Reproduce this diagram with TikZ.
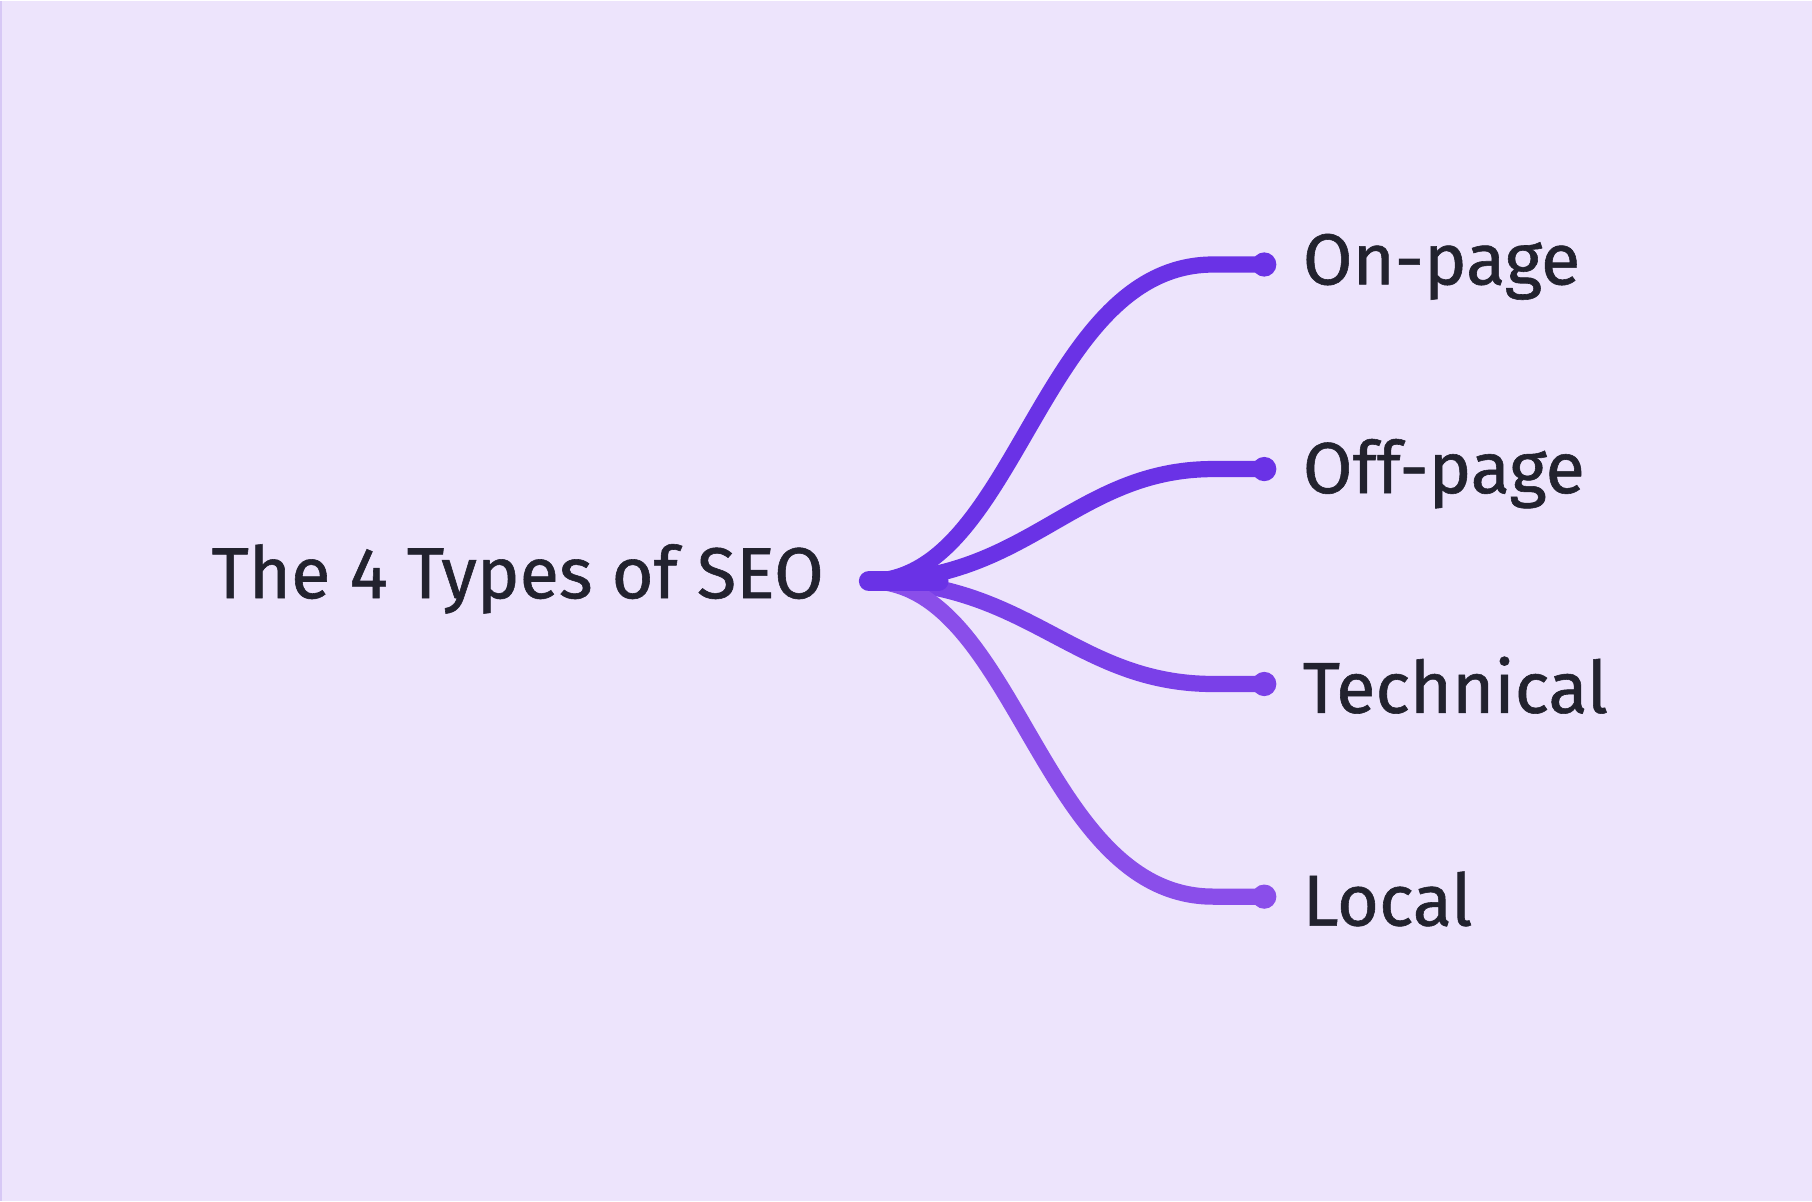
\documentclass[tikz,border=0pt]{standalone}
\usepackage{fontspec}
\setmainfont{Fira Sans}[FakeBold=0.8]
\definecolor{bg}{HTML}{EDE4FC}
\definecolor{ink}{HTML}{22222E}
\definecolor{p1}{HTML}{6A32E6}
\definecolor{p2}{HTML}{7A40E8}
\definecolor{p3}{HTML}{8A4EEA}
\begin{document}
\begin{tikzpicture}[x=0.02cm,y=-0.02cm,
  lbl/.style={anchor=west,text=ink,font=\fontsize{35.5}{38}\selectfont,inner sep=0},
  br/.style={line width=8pt,line cap=round},
  dotn/.style={circle,inner sep=0,minimum size=0.42cm}]
\fill[bg] (0,0) rectangle (1568,1038);
\draw[color={rgb,255:red,215;green,200;blue,245},line width=1pt] (1,0)--(1,1038);
\node[lbl,anchor=center] (title) at (448,500) {The 4 Types of SEO};
\coordinate (hub) at (752,502);
\coordinate (j) at (812,502);
\node[dotn,fill=p1] (d1) at (1094,228) {};
\node[dotn,fill=p1] (d2) at (1094,405) {};
\node[dotn,fill=p2] (d3) at (1094,591) {};
\node[dotn,fill=p3] (d4) at (1094,775) {};
\node[lbl] (l1) at (1127,230) {On-page};
\node[lbl] (l2) at (1127,409) {Off-page};
\node[lbl] (l3) at (1127,592) {Technical};
\node[lbl] (l4) at (1127,777) {Local};
\draw[br,p1] (hub) .. controls (880,502) and (900,228) .. (1050,228) -- (d1.center);
\draw[br,p1] (hub) .. controls (890,502) and (930,405) .. (1050,405) -- (d2.center);
\draw[br,p2] (hub) .. controls (890,502) and (930,591) .. (1050,591) -- (d3.center);
\draw[br,p3] (hub) .. controls (880,502) and (900,775) .. (1050,775) -- (d4.center);
\draw[br,p1,line width=10pt] (hub) -- (j);
\end{tikzpicture}
\end{document}
